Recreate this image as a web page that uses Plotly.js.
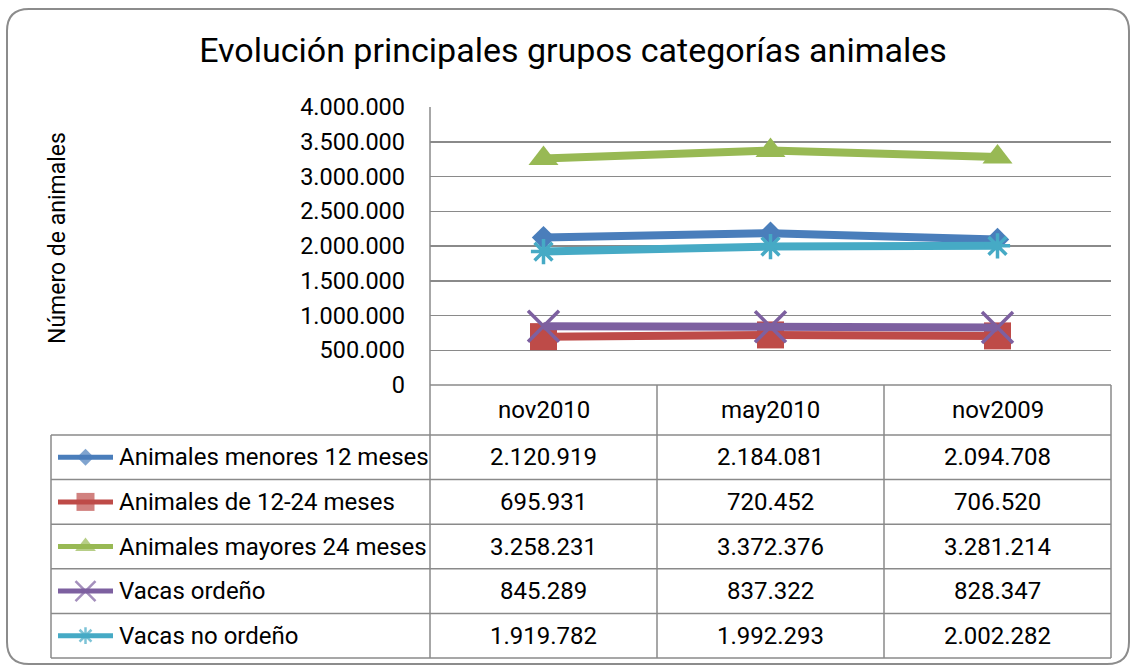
<!DOCTYPE html>
<html><head><meta charset="utf-8">
<script src="https://cdn.plot.ly/plotly-3.0.1.min.js"></script>
<style>html,body{margin:0;padding:0;background:#fff}#chart{width:1131px;height:666px}</style>
</head><body><div id="chart"></div>
<script>
// ---- data ----
const chartTitle = "Evolución principales grupos categorías animales";
const yAxisTitle = "Número de animales";
const categories = ["nov2010", "may2010", "nov2009"];
const seriesNames = ["Animales menores 12 meses", "Animales de 12-24 meses", "Animales mayores 24 meses", "Vacas ordeño", "Vacas no ordeño"];
const menores12 = [2120919, 2184081, 2094708];
const de12a24 = [695931, 720452, 706520];
const mayores24 = [3258231, 3372376, 3281214];
const vacasOrdeno = [845289, 837322, 828347];
const vacasNoOrdeno = [1919782, 1992293, 2002282];
const seriesValues = [menores12, de12a24, mayores24, vacasOrdeno, vacasNoOrdeno];

// ---- style ----
const colors = ["#4a7ebb", "#be4b48", "#98b954", "#7d60a0", "#46aac5"];
const symbols = ["diamond", "square", "triangle-up", "x-thin-open", "asterisk-open"];
const markerSizes = [18, 27, 26, 31, 21];
const keyMarkerSizes = [13, 18, 18, 20, 14];
const FONT = "Roboto, 'Open Sans', sans-serif";
const GRID = "#8a8a8a";

// ---- geometry (pixels) ----
const W = 1131, H = 666;
const plotL = 430, plotR = 1111, plotT = 107, plotB = 385;
const tableL = 51, rowTop = 435, rowH = 44.6;
const keyL = 58, keyR = 113, textL = 117;

function fmt(n) { return String(n).replace(/\B(?=(\d{3})+(?!\d))/g, "."); }
function rowCenter(i) { return rowTop + rowH * (i + 0.5); }

const traces = [];
seriesValues.forEach((vals, i) => {
  const isLineSym = symbols[i].indexOf("open") >= 0;
  traces.push({
    type: "scatter", mode: "lines+markers", x: categories, y: vals,
    xaxis: "x", yaxis: "y", name: seriesNames[i], showlegend: false,
    line: { color: colors[i], width: 8 },
    marker: { symbol: symbols[i], size: markerSizes[i], color: colors[i],
              line: { color: colors[i], width: isLineSym ? 3.5 : 0 } }
  });
});
// legend keys inside the data table
seriesValues.forEach((vals, i) => {
  const isLineSym = symbols[i].indexOf("open") >= 0;
  const yc = rowCenter(i);
  traces.push({
    type: "scatter", mode: "lines+markers",
    x: [keyL, (keyL + keyR) / 2, keyR], y: [yc, yc, yc],
    xaxis: "x2", yaxis: "y2", showlegend: false,
    line: { color: colors[i], width: 5 },
    marker: { symbol: symbols[i], size: [0, keyMarkerSizes[i], 0], color: colors[i],
              line: { color: colors[i], width: isLineSym ? 2.5 : 0 } }
  });
});

const shapes = [];
const pxLine = (x0, y0, x1, y1) => ({ type: "line", xref: "x2", yref: "y2", x0, y0, x1, y1,
  line: { color: GRID, width: 1.5 }, layer: "below" });
// outer rounded frame
const r = 22, fl = 7, ft = 9, fr = 1129, fb = 664;
shapes.push({ type: "path", xref: "x2", yref: "y2", layer: "below",
  path: `M${fl + r},${ft} L${fr - r},${ft} Q${fr},${ft} ${fr},${ft + r} L${fr},${fb - r} Q${fr},${fb} ${fr - r},${fb} L${fl + r},${fb} Q${fl},${fb} ${fl},${fb - r} L${fl},${ft + r} Q${fl},${ft} ${fl + r},${ft} Z`,
  line: { color: "#8c8c8c", width: 2 } });
// value axis line extending through table
shapes.push(pxLine(plotL, plotT, plotL, rowTop + rowH * seriesNames.length));
// table horizontal lines
shapes.push(pxLine(plotL, plotB, plotR, plotB));
for (let i = 0; i <= seriesNames.length; i++) shapes.push(pxLine(tableL, rowTop + rowH * i, plotR, rowTop + rowH * i));
// table vertical lines
shapes.push(pxLine(tableL, rowTop, tableL, rowTop + rowH * seriesNames.length));
for (let k = 1; k <= categories.length; k++) {
  const x = plotL + k * (plotR - plotL) / categories.length;
  shapes.push(pxLine(x, plotB, x, rowTop + rowH * seriesNames.length));
}

const annotations = [];
const txt = (size) => ({ family: FONT, size: size, color: "#000" });
annotations.push({ text: yAxisTitle, xref: "x2", yref: "y2", x: 57, y: 238,
  textangle: -90, showarrow: false, font: txt(23), xanchor: "center", yanchor: "middle" });
categories.forEach((c) => {
  annotations.push({ text: c, xref: "x", yref: "y2", x: c, y: (plotB + rowTop) / 2,
    showarrow: false, font: txt(24), xanchor: "center", yanchor: "middle" });
});
seriesNames.forEach((n, i) => {
  annotations.push({ text: n, xref: "x2", yref: "y2", x: textL, y: rowCenter(i),
    showarrow: false, font: txt(24), xanchor: "left", yanchor: "middle" });
  seriesValues[i].forEach((v, j) => {
    annotations.push({ text: fmt(v), xref: "x", yref: "y2", x: categories[j], y: rowCenter(i),
      showarrow: false, font: txt(24), xanchor: "center", yanchor: "middle" });
  });
});

const layout = {
  width: W, height: H,
  margin: { l: 0, r: 0, t: 0, b: 0, pad: 0 },
  paper_bgcolor: "#fff", plot_bgcolor: "rgba(0,0,0,0)",
  separators: ",.",
  font: { family: FONT, color: "#000" },
  title: { text: chartTitle, font: { family: FONT, size: 34, color: "#000" },
           x: 573 / W, y: 1 - 50 / H, xref: "paper", yref: "paper", xanchor: "center", yanchor: "middle" },
  showlegend: false,
  xaxis: { domain: [plotL / W, plotR / W], type: "category", range: [-0.5, categories.length - 0.5],
           showticklabels: false, showgrid: false, zeroline: false, showline: false, ticks: "", anchor: "y" },
  yaxis: { domain: [1 - plotB / H, 1 - plotT / H], range: [0, 4000000], dtick: 500000, tickformat: ",d",
           showgrid: true, gridcolor: GRID, gridwidth: 1.5, zeroline: false, showline: false, ticks: "",
           ticklabelstandoff: 24, tickfont: { family: FONT, size: 23.5, color: "#000" }, anchor: "x" },
  xaxis2: { domain: [0, 1], range: [0, W], visible: false, anchor: "y2", fixedrange: true },
  yaxis2: { domain: [0, 1], range: [H, 0], visible: false, anchor: "x2", fixedrange: true },
  shapes: shapes,
  annotations: annotations
};

Plotly.newPlot("chart", traces, layout, { staticPlot: true, displayModeBar: false });
</script>
</body></html>
